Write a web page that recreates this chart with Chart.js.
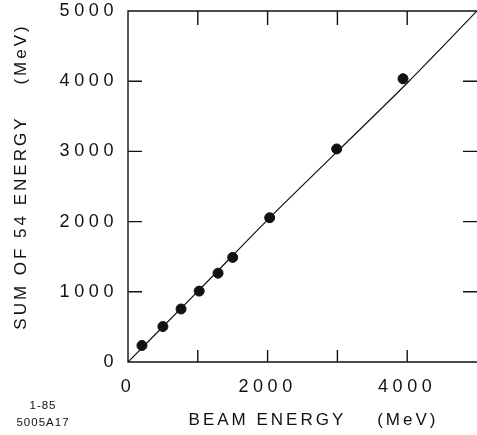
<!DOCTYPE html>
<html>
<head>
<meta charset="utf-8">
<script src="https://cdn.jsdelivr.net/npm/chart.js@4"></script>
<style>
  html, body { margin: 0; padding: 0; background: #fff; }
  #wrap { width: 477px; height: 435px; position: relative; }
</style>
</head>
<body>
<div id="wrap"><canvas id="energyChart"></canvas></div>
<script>
// measured points
const beamEnergy = [200, 500, 760, 1020, 1290, 1500, 2030, 2990, 3940];
const sumEnergy = [235, 505, 755, 1010, 1265, 1490, 2055, 3035, 4035];

// drawn curve
const curveBeam = [0, 1000, 2000, 3000, 4000, 5000];
const curveSum = [0, 1005, 2025, 3000, 3975, 5000];

// tick labels
const xTicks = [0, 2000, 4000];
const yTicks = [0, 1000, 2000, 3000, 4000, 5000];
const tickMarks = [1000, 2000, 3000, 4000];

const ink = "#111";
const face = "'Liberation Sans', Arial, sans-serif";

// keep the axes from reserving room for half labels
function fixBox(s, key, size) {
    s[key] = size;
    s.paddingTop = 0;
    s.paddingBottom = 0;
    s.paddingLeft = 0;
    s.paddingRight = 0;
}

const frame = {
    id: "frame",
    beforeDraw(chart) {
        chart.ctx.letterSpacing = "4.6px";
    },
    afterDraw(chart) {
        const {ctx, chartArea: a, scales: {x, y}} = chart;
        ctx.save();
        ctx.strokeStyle = ink;
        ctx.lineWidth = 1.4;
        ctx.beginPath();
        ctx.moveTo(a.right, a.top);
        ctx.lineTo(a.left, a.top);
        ctx.lineTo(a.left, a.bottom);
        ctx.lineTo(a.right, a.bottom);

        // inward ticks on all four sides
        tickMarks.forEach(v => {
            const px = x.getPixelForValue(v);
            const py = y.getPixelForValue(v);
            ctx.moveTo(px, a.bottom); ctx.lineTo(px, a.bottom - 12);
            ctx.moveTo(px, a.top); ctx.lineTo(px, a.top + 14);
            ctx.moveTo(a.left, py); ctx.lineTo(a.left + 14, py);
            ctx.moveTo(a.right, py); ctx.lineTo(a.right - 14, py);
        });
        ctx.stroke();

        ctx.fillStyle = ink;
        ctx.letterSpacing = "3px";
        ctx.font = "17px " + face;
        ctx.textBaseline = "middle";
        ctx.textAlign = "center";
        ctx.fillText("BEAM ENERGY    (MeV)", (a.left + a.right) / 2 + 11, 420);

        ctx.save();
        ctx.translate(21, (a.top + a.bottom) / 2 - 10);
        ctx.rotate(-Math.PI / 2);
        ctx.fillText("SUM OF 54 ENERGY    (MeV)", 0, 0);
        ctx.restore();

        ctx.letterSpacing = "1px";
        ctx.font = "11.5px " + face;
        ctx.fillText("1-85", 43, 406);
        ctx.fillText("5005A17", 43, 423);
        ctx.restore();
    }
};

new Chart(document.getElementById("energyChart"), {
    type: "scatter",
    data: {
        datasets: [{
            data: beamEnergy.map((b, i) => ({x: b, y: sumEnergy[i]})),
            backgroundColor: ink,
            borderColor: ink,
            pointRadius: 5,
            pointHoverRadius: 5
        }, {
            data: curveBeam.map((b, i) => ({x: b, y: curveSum[i]})),
            showLine: true,
            borderColor: ink,
            borderWidth: 1.2,
            pointRadius: 0,
            cubicInterpolationMode: "monotone"
        }]
    },
    options: {
        responsive: true,
        maintainAspectRatio: false,
        animation: false,
        layout: {
            autoPadding: false,
            padding: {top: 11, right: 0, left: 0, bottom: 0}
        },
        plugins: {
            legend: {display: false},
            tooltip: {enabled: false}
        },
        scales: {
            x: {
                type: "linear",
                min: 0,
                max: 5000,
                afterFit: s => fixBox(s, "height", 73),
                afterBuildTicks: s => { s.ticks = xTicks.map(v => ({value: v})); },
                grid: {display: false, drawTicks: false},
                border: {display: false},
                ticks: {
                    color: ink,
                    padding: 14,
                    maxRotation: 0,
                    callback: v => String(v),
                    font: {family: face, size: 18}
                }
            },
            y: {
                type: "linear",
                min: 0,
                max: 5000,
                afterFit: s => fixBox(s, "width", 128),
                afterBuildTicks: s => { s.ticks = yTicks.map(v => ({value: v})); },
                grid: {display: false, drawTicks: false},
                border: {display: false},
                ticks: {
                    color: ink,
                    padding: 10,
                    callback: v => String(v),
                    font: {family: face, size: 18}
                }
            }
        }
    },
    plugins: [frame]
});
</script>
</body>
</html>
